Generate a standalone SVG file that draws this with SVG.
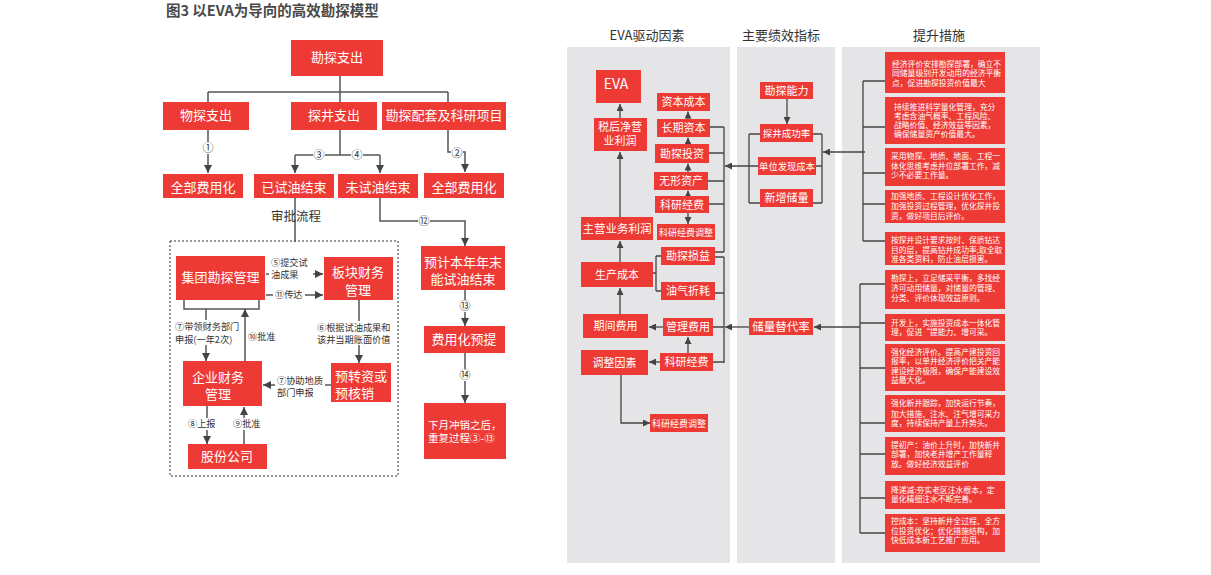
<svg xmlns="http://www.w3.org/2000/svg" width="1211" height="575" viewBox="0 0 1211 575">
<defs>
<marker id="ah" viewBox="0 0 10 10" refX="10" refY="5" markerWidth="8" markerHeight="8" markerUnits="userSpaceOnUse" orient="auto"><path d="M0,0 L10,5 L0,10 z" fill="#444"/></marker>
<marker id="as" viewBox="0 0 10 10" refX="10" refY="5" markerWidth="7" markerHeight="7" markerUnits="userSpaceOnUse" orient="auto"><path d="M0,0 L10,5 L0,10 z" fill="#444"/></marker>
</defs>
<style>
text{font-family:"Noto Sans CJK SC","Noto Sans","Liberation Sans",sans-serif}
.box{fill:#ee3a35}
.w{fill:#fff;text-anchor:middle}
.wl{fill:#fff}
.f13{font-size:13px}
.f11{font-size:11px}
.f9{font-size:9px}
.ln{fill:none;stroke:#555;stroke-width:1.5}
.rl{fill:none;stroke:#444;stroke-width:1.3}
.arr{marker-end:url(#ah)}
.ars{marker-end:url(#as)}
.lab{font-size:9.2px;fill:#333}
.num{font-size:11px;fill:#333;text-anchor:middle}
.wb{fill:#fff}
.panel{fill:#e5e5e7}
.sm{font-size:7.8px;fill:#fff}
.hd{font-size:13px;fill:#333;text-anchor:middle}
</style>
<rect x="0" y="0" width="1211" height="575" fill="#fff"/>
<text x="166" y="15.5" font-size="14.5" font-weight="bold" fill="#4a4a4a">图3 以EVA为导向的高效勘探模型</text>

<!-- LEFT DIAGRAM -->
<rect x="170" y="241" width="228" height="235" fill="none" stroke="#333" stroke-width="1" stroke-dasharray="2,2"/>
<g id="connectors-left">
<path class="ln" d="M340,76 V102 M208,92 H448 M208,92 V102 M448,92 V102"/>
<path class="ln arr" d="M208,130 V173"/>
<path class="ln" d="M340,130 V155 M295,155 H380"/>
<path class="ln arr" d="M295,155 V173"/>
<path class="ln arr" d="M380,155 V173"/>
<path class="ln arr" d="M448,130 V152 H465 V172"/>
<path class="ln" d="M295,198 V242"/>
<path class="ln arr" d="M380,198 V221 H465 V246"/>
<path class="ln arr" d="M465,290 V326"/>
<path class="ln arr" d="M465,353 V403"/>
<path class="ln arr" d="M266,274 H323"/>
<path class="ln arr" d="M266,295 H323"/>
<path class="ln" d="M184,300 V309 H259 V300"/>
<path class="ln arr" d="M206,309 V361"/>
<path class="ln arr" d="M245,361 V309"/>
<path class="ln arr" d="M359,300 V363"/>
<path class="ln arr" d="M331,385 H263"/>
<path class="ln arr" d="M207,406 V444"/>
<path class="ln arr" d="M244,444 V407"/>
<rect class="wb" x="202" y="142" width="12" height="12"/><text class="num" x="208" y="152">①</text>
<rect class="wb" x="451" y="147" width="12" height="12"/><text class="num" x="457" y="157">②</text>
<rect class="wb" x="313" y="149" width="12" height="12"/><text class="num" x="319" y="159">③</text>
<rect class="wb" x="351" y="149" width="12" height="12"/><text class="num" x="357" y="159">④</text>
<rect class="wb" x="418" y="215" width="12" height="12"/><text class="num" x="424" y="225">⑫</text>
<rect class="wb" x="459" y="300" width="12" height="12"/><text class="num" x="465" y="310">⑬</text>
<rect class="wb" x="459" y="369" width="12" height="12"/><text class="num" x="465" y="379">⑭</text>
<rect class="wb" x="269" y="257" width="44" height="23"/>
<text class="lab" x="271" y="266">⑤提交试</text><text class="lab" x="271" y="278">油成果</text>
<rect class="wb" x="273" y="288" width="32" height="12"/>
<text class="lab" x="275" y="298">⑪传达</text>
<rect class="wb" x="174" y="320" width="68" height="25"/>
<text class="lab" x="175" y="330">⑦带领财务部门</text><text class="lab" x="175" y="343">申报(一年2次)</text>
<text class="lab" x="248" y="339.5">⑩批准</text>
<rect class="wb" x="315" y="321" width="80" height="24"/>
<text class="lab" x="317" y="330.5">⑥根据试油成果和</text><text class="lab" x="317" y="342.5">该井当期账面价值</text>
<rect class="wb" x="275" y="374" width="50" height="23"/>
<text class="lab" x="277" y="383.5">⑦协助地质</text><text class="lab" x="277" y="395.5">部门申报</text>
<rect class="wb" x="187" y="418" width="30" height="12"/><text class="lab" x="188" y="427">⑧上报</text>
<rect class="wb" x="232" y="418" width="30" height="12"/><text class="lab" x="233" y="427">⑨批准</text>
<text x="296" y="221" font-size="12.5" fill="#333" text-anchor="middle">审批流程</text>
</g>

<g id="n-kantanzhichu"><rect class="box" x="291" y="40" width="92" height="36"/><text class="w f13" x="337" y="62">勘探支出</text></g>
<g id="n-wutan"><rect class="box" x="163" y="102" width="86" height="28"/><text class="w f13" x="206" y="120">物探支出</text></g>
<g id="n-tanjing"><rect class="box" x="291" y="102" width="86" height="28"/><text class="w f13" x="334" y="120">探井支出</text></g>
<g id="n-peitao"><rect class="box" x="382" y="102" width="124" height="28"/><text class="w f13" x="444" y="120">勘探配套及科研项目</text></g>
<g id="n-feiyong1"><rect class="box" x="163" y="174" width="80" height="24"/><text class="w f13" x="203" y="191.5">全部费用化</text></g>
<g id="n-yishiyou"><rect class="box" x="254" y="174" width="80" height="24"/><text class="w f13" x="294" y="191.5">已试油结束</text></g>
<g id="n-weishiyou"><rect class="box" x="338" y="174" width="80" height="24"/><text class="w f13" x="378" y="191.5">未试油结束</text></g>
<g id="n-feiyong2"><rect class="box" x="424" y="173" width="80" height="25"/><text class="w f13" x="464" y="191.5">全部费用化</text></g>
<g id="n-jituan"><rect class="box" x="176" y="256" width="89" height="44"/><text class="w f13" x="220.5" y="282">集团勘探管理</text></g>
<g id="n-bankuai"><rect class="box" x="324" y="257" width="69" height="43"/><text class="w f13" x="358" y="277">板块财务</text><text class="w f13" x="358" y="294.5">管理</text></g>
<g id="n-yuji"><rect class="box" x="421" y="246" width="84" height="44"/><text class="w f13" x="463" y="266.5">预计本年年末</text><text class="w f13" x="463" y="284">能试油结束</text></g>
<g id="n-yuti"><rect class="box" x="424" y="326" width="81" height="27"/><text class="w f13" x="464" y="344">费用化预提</text></g>
<g id="n-qiye"><rect class="box" x="183" y="361" width="79" height="45"/><text class="w f13" x="218" y="381.5">企业财务</text><text class="w f13" x="218" y="398.5">管理</text></g>
<g id="n-yuzhuan"><rect class="box" x="331" y="363" width="60" height="39"/><text class="wl f13" x="335" y="380.5">预转资或</text><text class="wl f13" x="335" y="398">预核销</text></g>
<g id="n-gufen"><rect class="box" x="188" y="444" width="79" height="25"/><text class="w f13" x="227" y="461">股份公司</text></g>
<g id="n-xiayue"><rect class="box" x="424" y="403" width="82" height="56"/><text class="wl" font-size="10.5" x="428" y="428.5">下月冲销之后，</text><text class="wl" font-size="10.5" x="428" y="441.5">重复过程③-⑬</text></g>

<!-- RIGHT DIAGRAM -->
<rect class="panel" x="567" y="47" width="163" height="516"/>
<rect class="panel" x="737" y="47" width="98" height="516"/>
<rect class="panel" x="842" y="47" width="198" height="516"/>
<text class="hd" x="647" y="40">EVA驱动因素</text>
<text class="hd" x="781" y="40">主要绩效指标</text>
<text class="hd" x="939" y="40">提升措施</text>

<g id="connectors-right">
<path class="rl ars" d="M620,118 V104"/>
<path class="rl ars" d="M620,217 V152"/>
<path class="rl ars" d="M620,262 V241"/>
<path class="rl ars" d="M620,314 V288"/>
<path class="rl ars" d="M621,375 V423 H650"/>
<path class="rl ars" d="M663,327 H649"/>
<path class="rl ars" d="M660,362 H649"/>
<path class="rl ars" d="M688,353 V337"/>
<path class="rl" d="M653,273 H656 M656,256 V291 M656,256 H661 M656,291 H661"/>
<path class="rl ars" d="M688,119 V111.5"/>
<path class="rl ars" d="M688,144 V137.5"/>
<path class="rl ars" d="M688,172 V163.5"/>
<path class="rl ars" d="M688,196 V190.5"/>
<path class="rl ars" d="M688,213 V224"/>
<path class="rl" d="M724,127 V252 M710,127 H724 M709,153 H724 M708,181 H724 M709,204 H724 M715,252 H724"/>
<path class="rl" d="M724,257 V363 M715,257 H724 M715,293 H724 M713,327 H724 M713,362 H724"/>
<path class="rl ars" d="M758,166 H725"/>
<path class="rl ars" d="M749,327 H725"/>
<path class="rl ars" d="M787,99 V124"/>
<path class="rl" d="M749,134 V203 M749,134 H760 M749,203 H760"/>
<path class="rl" d="M822,134 V203 M813,134 H822 M816,166 H822 M813,203 H822"/>
<path class="rl ars" d="M865,152 H823"/>
<path class="rl ars" d="M860,327 H814"/>
<path class="rl" d="M863,81 V241 M863,81 H885 M863,127 H885 M863,173 H885 M863,204 H885 M863,241 H885"/>
<path class="rl" d="M860,284 V533 M860,284 H885 M860,323 H885 M860,368 H885 M860,423 H885 M860,454 H885 M860,498 H885 M860,533 H885"/>
</g>

<g id="r-eva"><rect class="box" x="596" y="70" width="45" height="33"/><text class="w" font-size="14" x="616" y="88.5">EVA</text></g>
<g id="r-shuihou"><rect class="box" x="594" y="118" width="53" height="33"/><text class="w f11" x="620" y="130.5">税后净营</text><text class="w f11" x="620" y="144.5">业利润</text></g>
<g id="r-zibenchengben"><rect class="box" x="657" y="93" width="53" height="18"/><text class="w f11" x="683.5" y="106">资本成本</text></g>
<g id="r-changqi"><rect class="box" x="657" y="119" width="53" height="18"/><text class="w f11" x="683.5" y="132">长期资本</text></g>
<g id="r-kantantouzi"><rect class="box" x="655" y="144" width="54" height="19"/><text class="w f11" x="682" y="157.5">勘探投资</text></g>
<g id="r-wuxing"><rect class="box" x="654" y="172" width="54" height="18"/><text class="w f11" x="681" y="185">无形资产</text></g>
<g id="r-keyan1"><rect class="box" x="655" y="196" width="54" height="17"/><text class="w f11" x="682" y="208.5">科研经费</text></g>
<g id="r-tiaozheng1"><rect class="box" x="657" y="224" width="58" height="16"/><text class="w f9" x="686" y="235.5">科研经费调整</text></g>
<g id="r-zhuying"><rect class="box" x="581" y="217" width="72" height="23"/><text class="w" font-size="11.5" x="617" y="233">主营业务利润</text></g>
<g id="r-sunyi"><rect class="box" x="661" y="247" width="54" height="18"/><text class="w f11" x="688" y="260">勘探损益</text></g>
<g id="r-zhehao"><rect class="box" x="661" y="282" width="54" height="18"/><text class="w f11" x="688" y="295">油气折耗</text></g>
<g id="r-shengchan"><rect class="box" x="581" y="262" width="72" height="25"/><text class="w f11" x="617" y="278.5">生产成本</text></g>
<g id="r-qijian"><rect class="box" x="583" y="314" width="65" height="24"/><text class="w f11" x="615.5" y="330">期间费用</text></g>
<g id="r-guanli"><rect class="box" x="663" y="318" width="50" height="18"/><text class="w f11" x="688" y="331">管理费用</text></g>
<g id="r-tiaozhengyinsu"><rect class="box" x="581" y="350" width="67" height="25"/><text class="w f11" x="614.5" y="366.5">调整因素</text></g>
<g id="r-keyan2"><rect class="box" x="660" y="353" width="53" height="18"/><text class="w f11" x="686.5" y="366">科研经费</text></g>
<g id="r-tiaozheng2"><rect class="box" x="650" y="414" width="58" height="18"/><text class="w f9" x="679" y="426.5">科研经费调整</text></g>
<g id="k-nengli"><rect class="box" x="760" y="82" width="53" height="17"/><text class="w f11" x="786.5" y="94.5">勘探能力</text></g>
<g id="k-chenggong"><rect class="box" x="760" y="124" width="53" height="18"/><text class="w" font-size="9.5" x="786.5" y="136.5">探井成功率</text></g>
<g id="k-danwei"><rect class="box" x="758" y="157" width="58" height="18"/><text class="w" font-size="9.3" x="787" y="169.5">单位发现成本</text></g>
<g id="k-xinzeng"><rect class="box" x="760" y="189" width="53" height="18"/><text class="w f11" x="786.5" y="202">新增储量</text></g>
<g id="k-tidai"><rect class="box" x="749" y="318" width="64" height="17"/><text class="w" font-size="11.5" x="781" y="331">储量替代率</text></g>

<g id="m1"><rect class="box" x="885" y="52" width="120" height="41"/><text class="sm" x="892" y="67">经济评价安排勘探部署，确立不</text><text class="sm" x="892" y="76">同储量级别开发动用的经济平衡</text><text class="sm" x="892" y="86">点，促进勘探投资价值最大</text></g>
<g id="m2"><rect class="box" x="885" y="97" width="120" height="47"/><text class="sm" x="894" y="109.5">持续推进科学量化管理，充分</text><text class="sm" x="894" y="119">考虑含油气概率、工程风险、</text><text class="sm" x="894" y="128">战略价值、经济效益等因素，</text><text class="sm" x="894" y="137">确保储量资产价值最大。</text></g>
<g id="m3"><rect class="box" x="885" y="148" width="120" height="38"/><text class="sm" x="891" y="159">采用物探、地质、地面、工程一</text><text class="sm" x="891" y="168.5">体化思维考虑井位部署工作，减</text><text class="sm" x="891" y="178">少不必要工作量。</text></g>
<g id="m4"><rect class="box" x="885" y="190" width="120" height="33"/><text class="sm" x="891" y="199">加强地质、工程设计优化工作，</text><text class="sm" x="891" y="209">加强投资过程管理，优化探井投</text><text class="sm" x="891" y="219">资，做好项目后评价。</text></g>
<g id="m5"><rect class="box" x="885" y="232" width="120" height="33"/><text class="sm" x="891" y="243">按探井设计要求按时、保质钻达</text><text class="sm" x="891" y="253">目的层，提高钻井成功率;取全取</text><text class="sm" x="891" y="262">准各类资料，防止油层损害。</text></g>
<g id="m6"><rect class="box" x="885" y="270" width="120" height="39"/><text class="sm" x="891" y="281">勘探上，立足储采平衡，多找经</text><text class="sm" x="891" y="291">济可动用储量，对储量的管理、</text><text class="sm" x="891" y="301">分类、评价体现效益原则。</text></g>
<g id="m7"><rect class="box" x="885" y="314" width="120" height="27"/><text class="sm" x="891" y="326">开发上，实施投资成本一体化管</text><text class="sm" x="891" y="335">理，促进“提能力、增可采。</text></g>
<g id="m8"><rect class="box" x="885" y="344" width="120" height="47"/><text class="sm" x="891" y="355">强化经济评价。提高产建投资回</text><text class="sm" x="891" y="364">报率，以单井经济评价把关产能</text><text class="sm" x="891" y="374">建设经济极限，确保产能建设效</text><text class="sm" x="891" y="383">益最大化。</text></g>
<g id="m9"><rect class="box" x="885" y="395" width="120" height="37"/><text class="sm" x="891" y="406">强化新井跟踪，加快运行节奏，</text><text class="sm" x="891" y="417">加大措施、注水、注气增可采力</text><text class="sm" x="891" y="426">度，持续保持产量上升势头。</text></g>
<g id="m10"><rect class="box" x="885" y="437" width="120" height="38"/><text class="sm" x="891" y="448">提初产：油价上升时，加快新井</text><text class="sm" x="891" y="457">部署，加快老井增产工作量释</text><text class="sm" x="891" y="467">放。做好经济效益评价</text></g>
<g id="m11"><rect class="box" x="885" y="481" width="120" height="28"/><text class="sm" x="891" y="493">降递减:夯实老区注水根本，定</text><text class="sm" x="891" y="502">量化精细注水不断完善。</text></g>
<g id="m12"><rect class="box" x="885" y="514" width="120" height="38"/><text class="sm" x="891" y="524">控成本：坚持新井全过程、全方</text><text class="sm" x="891" y="534">位投资优化；优化措施结构，加</text><text class="sm" x="891" y="543">快低成本新工艺推广应用。</text></g>
</svg>
